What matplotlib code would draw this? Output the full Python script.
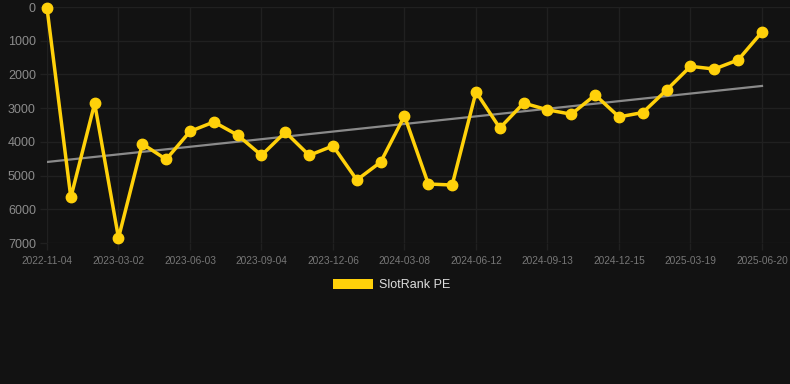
import numpy as np
import matplotlib
matplotlib.use("Agg")
import matplotlib.pyplot as plt
from matplotlib.patches import Rectangle

# dati (rank, asse invertito)
tick_dates = ["2022-11-04", "2023-03-02", "2023-06-03", "2023-09-04", "2023-12-06",
              "2024-03-08", "2024-06-12", "2024-09-13", "2024-12-15", "2025-03-19",
              "2025-06-20"]
rank_pe = [30, 5650, 2860, 6850, 4060, 4520, 3690, 3410, 3800, 4400,
           3710, 4400, 4120, 5130, 4600, 3230, 5250, 5280, 2520, 3590,
           2850, 3050, 3180, 2610, 3260, 3130, 2460, 1760, 1840, 1570,
           740]

BG = "#121212"
YELLOW = "#FFD10A"
GRID = "#202020"

plt.rcParams["font.family"] = ["Liberation Sans", "DejaVu Sans"]

fig = plt.figure(figsize=(7.9, 3.84), dpi=100, facecolor=BG)
ax = fig.add_axes([47 / 790, 1 - 243 / 384, 743 / 790, 236 / 384], facecolor=BG)

x = np.arange(len(rank_pe))
y = np.array(rank_pe)

# linea di tendenza (regressione lineare)
m, q = np.polyfit(x, y, 1)
ax.plot(x, m * x + q, color="#8a8a8a", lw=1.6, zorder=2)

ax.plot(x, y, color=YELLOW, lw=2.5, marker="o", ms=7.5, zorder=3, clip_on=False)

step = 23.833
ax.set_xlim(0, 30 + 28 / step)
ax.set_ylim(7000, 0)
ax.set_yticks(range(0, 7001, 1000))
ax.set_xticks(x[::3])
ax.set_xticklabels(tick_dates)

ax.grid(True, color=GRID, lw=1)
ax.set_axisbelow(True)
for s in ax.spines.values():
    s.set_visible(False)
ax.tick_params(axis="y", colors=GRID, labelcolor="#8c8c8c", labelsize=9, length=5, width=1, pad=3)
ax.tick_params(axis="x", colors=GRID, labelcolor="#777777", labelsize=7.3, length=5, width=1, pad=4)

# legenda
fig.patches.append(Rectangle((333 / 790, 1 - 289 / 384), 40 / 790, 10 / 384,
                             transform=fig.transFigure, facecolor=YELLOW, edgecolor="none"))
fig.text(379 / 790, 1 - 285 / 384, "SlotRank PE", color="#dddddd", fontsize=9,
         va="center", ha="left")

fig.savefig("out.png", dpi=100, facecolor=BG)
